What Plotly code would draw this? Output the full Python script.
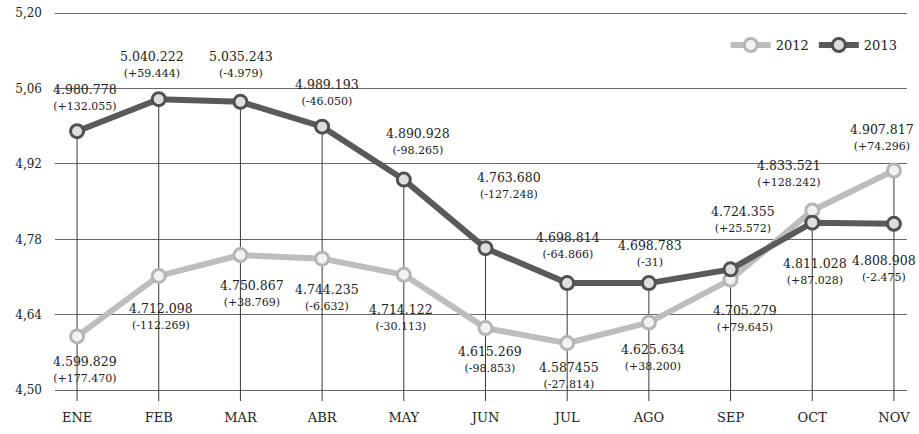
import plotly.graph_objects as go

months = ["ENE", "FEB", "MAR", "ABR", "MAY", "JUN", "JUL", "AGO", "SEP", "OCT", "NOV"]
v2012 = [4.599829, 4.712098, 4.750867, 4.744235, 4.714122, 4.615269, 4.587455, 4.625634, 4.705279, 4.833521, 4.907817]
v2013 = [4.980778, 5.040222, 5.035243, 4.989193, 4.890928, 4.763680, 4.698814, 4.698783, 4.724355, 4.811028, 4.808908]
lab2012 = ["4.599.829", "4.712.098", "4.750.867", "4.744.235", "4.714.122", "4.615.269", "4.587455", "4.625.634", "4.705.279", "4.833.521", "4.907.817"]
chg2012 = ["(+177.470)", "(-112.269)", "(+38.769)", "(-6.632)", "(-30.113)", "(-98.853)", "(-27.814)", "(+38.200)", "(+79.645)", "(+128.242)", "(+74.296)"]
lab2013 = ["4.980.778", "5.040.222", "5.035.243", "4.989.193", "4.890.928", "4.763.680", "4.698.814", "4.698.783", "4.724.355", "4.811.028", "4.808.908"]
chg2013 = ["(+132.055)", "(+59.444)", "(-4.979)", "(-46.050)", "(-98.265)", "(-127.248)", "(-64.866)", "(-31)", "(+25.572)", "(+87.028)", "(-2.475)"]
ytick_vals = [4.50, 4.64, 4.78, 4.92, 5.06, 5.20]

# label offsets (pixels) -- styling only
off2013 = [(8, 34), (-7, 35), (1, 37), (5, 34), (14, 38), (24, 63), (1, 38), (1, 30), (12, 50), (3, -49), (-10, -45)]
off2012 = [(8, -33), (2, -41), (12, -38), (5, -39), (-3, -43), (5, -31), (2, -32), (4, -35), (14, -39), (-23, 37), (-12, 33)]

YMIN, YMAX = 4.48, 5.202
FONT = "DejaVu Serif"

fig = go.Figure()

# vertical drop lines from upper point down to the axis
dx, dy = [], []
for m, a, b in zip(months, v2012, v2013):
    dx += [m, m, None]
    dy += [max(a, b), YMIN, None]
fig.add_trace(go.Scatter(x=dx, y=dy, mode="lines", line=dict(color="#3a3a3a", width=1),
                         showlegend=False, hoverinfo="skip"))

fig.add_trace(go.Scatter(x=months, y=v2012, mode="lines+markers", name="2012",
                         line=dict(color="#bdbdbd", width=6),
                         marker=dict(size=13, color="#f2f2f2", line=dict(color="#b5b5b5", width=3))))
fig.add_trace(go.Scatter(x=months, y=v2013, mode="lines+markers", name="2013",
                         line=dict(color="#5a5a5a", width=6),
                         marker=dict(size=13, color="#dedede", line=dict(color="#505050", width=3))))

annotations = []
for vals, labs, chgs, offs in ((v2013, lab2013, chg2013, off2013), (v2012, lab2012, chg2012, off2012)):
    for m, v, l, c, (ox, oy) in zip(months, vals, labs, chgs, offs):
        annotations.append(dict(x=m, y=v, xref="x", yref="y", showarrow=False, xshift=ox, yshift=oy,
                                text=f"{l}<br><span style='font-size:11px'>{c}</span>",
                                font=dict(family=FONT, size=12.5, color="#222")))

fig.update_layout(
    width=919, height=434,
    margin=dict(l=55, r=12, t=12, b=33),
    paper_bgcolor="white", plot_bgcolor="white",
    separators=",.",
    annotations=annotations,
    legend=dict(orientation="h", x=0.995, xanchor="right", y=0.915, yanchor="middle",
                font=dict(family=FONT, size=13, color="#222"), bgcolor="rgba(0,0,0,0)",
                itemwidth=40),
    xaxis=dict(range=[-0.27, 10.16], showgrid=False, showline=False, zeroline=False,
               tickfont=dict(family=FONT, size=13, color="#222"), ticks="", ticklabelstandoff=7,
               automargin=False),
    yaxis=dict(range=[YMIN, YMAX], tickvals=ytick_vals, tickformat=".2f",
               showgrid=True, gridcolor="#666", gridwidth=1, zeroline=False, showline=False,
               tickfont=dict(family=FONT, size=12, color="#222"), ticks="", ticklabelstandoff=12,
               automargin=False, ticklabeloverflow="allow"),
)

# remove the default 8px page margin so the figure sits at the window's top-left corner
fig.write_html("out.html", config={"displayModeBar": False},
               post_script="document.body.style.margin='0';")
